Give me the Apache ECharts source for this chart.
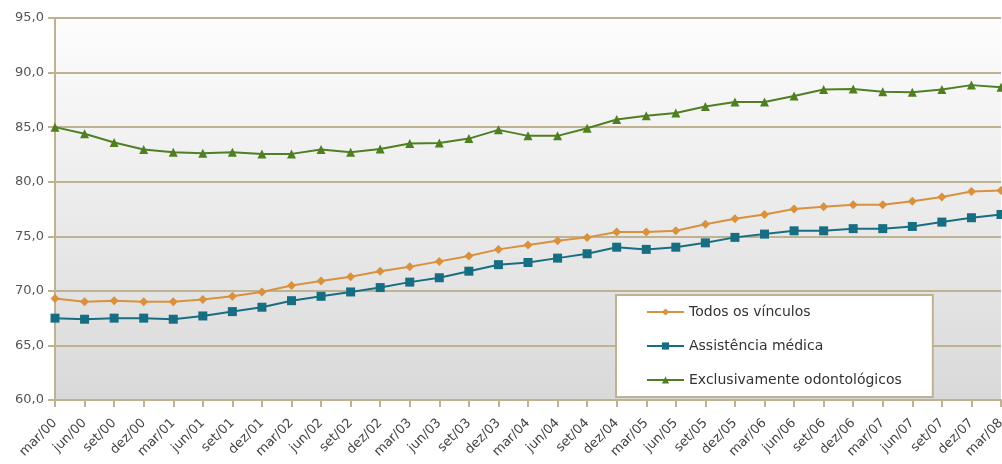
<!DOCTYPE html>
<html>
<head>
<meta charset="utf-8">
<script src="https://cdn.jsdelivr.net/npm/echarts@6/dist/echarts.min.js"></script>
<style>
  html, body { margin: 0; padding: 0; background: #fff; }
  #chart { width: 1002px; height: 464px; }
</style>
</head>
<body>
<div id="chart"></div>
<script>
// trimestres mar/00 .. mar/08
const categories = [
  "mar/00", "jun/00", "set/00", "dez/00", "mar/01", "jun/01", "set/01", "dez/01",
  "mar/02", "jun/02", "set/02", "dez/02", "mar/03", "jun/03", "set/03", "dez/03",
  "mar/04", "jun/04", "set/04", "dez/04", "mar/05", "jun/05", "set/05", "dez/05",
  "mar/06", "jun/06", "set/06", "dez/06", "mar/07", "jun/07", "set/07", "dez/07",
  "mar/08"
];
const todosVinculos = [
  69.3, 69.0, 69.1, 69.0, 69.0, 69.2, 69.5, 69.9,
  70.5, 70.9, 71.3, 71.8, 72.2, 72.7, 73.2, 73.8,
  74.2, 74.6, 74.9, 75.4, 75.4, 75.5, 76.1, 76.6,
  77.0, 77.5, 77.7, 77.9, 77.9, 78.2, 78.6, 79.1,
  79.2
];
const assistenciaMedica = [
  67.5, 67.4, 67.5, 67.5, 67.4, 67.7, 68.1, 68.5,
  69.1, 69.5, 69.9, 70.3, 70.8, 71.2, 71.8, 72.4,
  72.6, 73.0, 73.4, 74.0, 73.8, 74.0, 74.4, 74.9,
  75.2, 75.5, 75.5, 75.7, 75.7, 75.9, 76.3, 76.7,
  77.0
];
const exclusOdonto = [
  85.0, 84.4, 83.6, 82.95, 82.7, 82.6, 82.7, 82.55,
  82.55, 82.95, 82.7, 83.0, 83.5, 83.55, 83.95, 84.75,
  84.2, 84.2, 84.9, 85.7, 86.05, 86.3, 86.9, 87.3,
  87.3, 87.85, 88.45, 88.5, 88.25, 88.2, 88.45, 88.85,
  88.65
];
const seriesNames = ["Todos os vínculos", "Assistência médica", "Exclusivamente odontológicos"];

const tan = "#bfb292";
const chart = echarts.init(document.getElementById("chart"));
chart.setOption({
  animation: false,
  textStyle: { fontFamily: "DejaVu Sans, Verdana, sans-serif" },
  grid: {
    left: 55, top: 18, right: 1, bottom: 64,
    outerBoundsMode: "none",
    show: true,
    borderWidth: 0,
    backgroundColor: {
      type: "linear", x: 0, y: 0, x2: 0, y2: 1,
      colorStops: [
        { offset: 0, color: "#fdfdfd" },
        { offset: 1, color: "#d9d9d9" }
      ]
    }
  },
  legend: {
    orient: "vertical",
    left: 616, top: 295,
    padding: [10, 31, 10, 30],
    itemWidth: 37, itemHeight: 9,
    itemGap: 20,
    backgroundColor: "#fff",
    borderColor: tan, borderWidth: 2,
    textStyle: { color: "#333", fontSize: 14, fontFamily: "DejaVu Sans" },
    data: seriesNames
  },
  xAxis: {
    type: "category",
    boundaryGap: false,
    data: categories,
    axisLine: { lineStyle: { color: tan, width: 2 } },
    axisTick: { show: true, length: 7, lineStyle: { color: tan, width: 2 } },
    axisLabel: { rotate: 45, color: "#444", fontSize: 13, interval: 0, margin: 21 },
    splitLine: { show: false }
  },
  yAxis: {
    type: "value",
    min: 60, max: 95, interval: 5,
    axisLine: { show: true, lineStyle: { color: tan, width: 2 } },
    axisTick: { show: true, length: 7, lineStyle: { color: tan, width: 2 } },
    axisLabel: {
      color: "#555", fontSize: 13, margin: 11,
      formatter: v => v.toFixed(1).replace(".", ",")
    },
    splitLine: { lineStyle: { color: tan, width: 2 } }
  },
  series: [
    {
      name: seriesNames[0], type: "line", data: todosVinculos,
      symbol: "diamond", symbolSize: 9,
      lineStyle: { color: "#d8913c", width: 2 },
      itemStyle: { color: "#d8913c" }
    },
    {
      name: seriesNames[1], type: "line", data: assistenciaMedica,
      symbol: "rect", symbolSize: 9,
      lineStyle: { color: "#176e82", width: 2 },
      itemStyle: { color: "#176e82" }
    },
    {
      name: seriesNames[2], type: "line", data: exclusOdonto,
      symbol: "triangle", symbolSize: 9,
      lineStyle: { color: "#4f7f22", width: 2 },
      itemStyle: { color: "#4f7f22" }
    }
  ]
});
</script>
</body>
</html>
